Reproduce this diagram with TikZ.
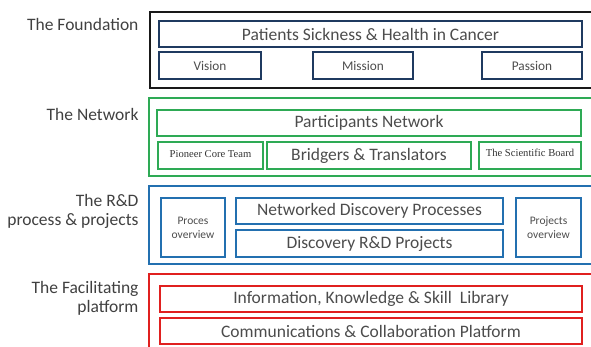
\documentclass[tikz,border=0pt]{standalone}
\usepackage{fontspec}
\setmainfont{Carlito}
\newfontfamily\smallserif{Liberation Serif}
\definecolor{navy}{HTML}{1F3A60}
\definecolor{grn}{HTML}{2EAA55}
\definecolor{blu}{HTML}{2370B0}
\definecolor{rd}{HTML}{E0201F}
\begin{document}
\begin{tikzpicture}[x=1pt,y=-1pt,
  outerbox/.style={draw=#1,line width=2.4pt},
  innerbox/.style={draw=#1,line width=2pt,inner sep=0pt,text=black!70},
  big/.style={font=\fontsize{17.5}{20}\selectfont},
  mid/.style={font=\fontsize{13.3}{15}\selectfont},
  ovw/.style={font=\fontsize{11.5}{14}\selectfont,align=center},
  tiny/.style={font=\smallserif\fontsize{10.6}{12}\selectfont,text=black!80},
  lbl/.style={font=\fontsize{17.5}{19.5}\selectfont,text=black!75,align=right,anchor=east}]
\useasboundingbox (0,0) rectangle (591,347);
\clip (0,0) rectangle (591,347);
% Foundation
\draw[outerbox=black!90] (150,12) rectangle (600,88);
\node[lbl] (lf) at (142,24) {The Foundation};
\node[innerbox=navy,minimum width=423pt,minimum height=26pt,big] (psh) at (370.5,34) {Patients Sickness \& Health in Cancer};
\node[innerbox=navy,minimum width=102pt,minimum height=27pt,mid] (vis) at (210,65.5) {Vision};
\node[innerbox=navy,minimum width=100pt,minimum height=27pt,mid] (mis) at (363,65.5) {Mission};
\node[innerbox=navy,minimum width=100pt,minimum height=27pt,mid] (pas) at (532,65.5) {Passion};
% Network
\draw[outerbox=grn] (149,98) rectangle (600,176);
\node[lbl] (ln) at (142,114) {The Network};
\node[innerbox=grn,minimum width=424pt,minimum height=26pt,big] (pn) at (369,123) {Participants Network};
\node[innerbox=grn,minimum width=105pt,minimum height=27pt,tiny] (pct) at (210.5,155.5) {\raisebox{4pt}{Pioneer Core Team}};
\node[innerbox=grn,minimum width=204pt,minimum height=27pt,big] (bt) at (369,155.5) {Bridgers \& Translators};
\node[innerbox=grn,minimum width=102pt,minimum height=27pt,tiny] (tsb) at (530,155.5) {\raisebox{4.5pt}{The Scientific Board}};
% R&D
\draw[outerbox=blu] (149,186) rectangle (600,264);
\node[lbl] (lr) at (142,211.5) {The R\&D\\process \& projects};
\node[innerbox=blu,minimum width=64pt,minimum height=59pt,ovw] (po) at (193,227.5) {Proces\\overview};
\node[innerbox=blu,minimum width=267pt,minimum height=26pt,big] (ndp) at (369.5,211) {Networked Discovery Processes};
\node[innerbox=blu,minimum width=267pt,minimum height=27pt,big] (drp) at (369.5,243.5) {Discovery R\&D Projects};
\node[innerbox=blu,minimum width=65pt,minimum height=59pt,ovw] (pro) at (548.5,227.5) {Projects\\overview};
% Facilitating
\draw[outerbox=rd] (149,274) rectangle (600,360);
\node[lbl] (lp) at (142,298.5) {The Facilitating\\platform};
\node[innerbox=rd,minimum width=422pt,minimum height=26pt,big] (iks) at (371,299) {Information, Knowledge \& Skill\ \ Library};
\node[innerbox=rd,minimum width=422pt,minimum height=26pt,big] (ccp) at (371,331) {Communications \& Collaboration Platform};
\end{tikzpicture}
\end{document}
